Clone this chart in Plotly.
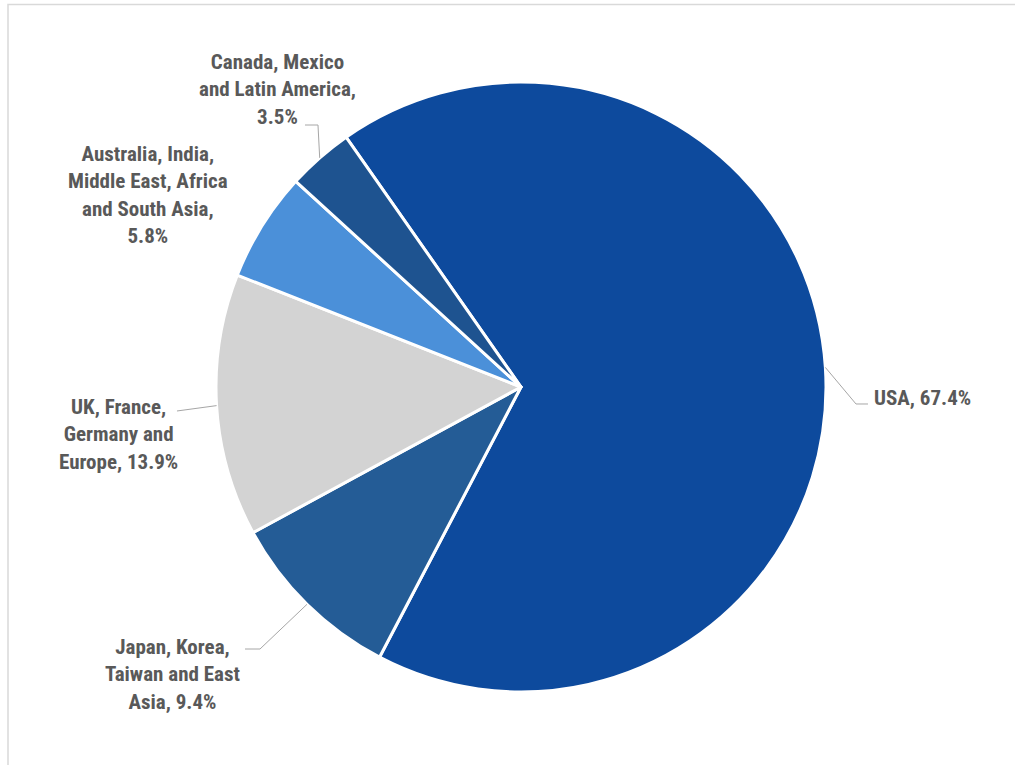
import math
import plotly.graph_objects as go

# Revenue share by region (%)
regions = [
    "USA",
    "Japan, Korea, Taiwan and East Asia",
    "UK, France, Germany and Europe",
    "Australia, India, Middle East, Africa and South Asia",
    "Canada, Mexico and Latin America",
]
shares = [67.4, 9.4, 13.9, 5.8, 3.5]

# Label text as laid out on the chart (line breaks)
label_lines = [
    ["USA, 67.4%"],
    ["Japan, Korea,", "Taiwan and East", "Asia, 9.4%"],
    ["UK, France,", "Germany and", "Europe, 13.9%"],
    ["Australia, India,", "Middle East, Africa", "and South Asia,", "5.8%"],
    ["Canada, Mexico", "and Latin America,", "3.5%"],
]

colors = ["#0D4A9D", "#245C96", "#D3D3D3", "#4B90D9", "#1E5390"]

# ---- layout geometry (pixels) ----
W, H = 1015, 765
CX, CY, R = 521, 387, 305
START_DEG = -35          # first slice begins 35 deg left of 12 o'clock
FONT = "Liberation Sans Narrow, Roboto Condensed, Arial Narrow, Liberation Sans, sans-serif"
TEXT_COLOR = "#595959"
FONT_SIZE = 21

# label anchor (px), anchor side, and leader elbow/end points (px)
label_layout = [
    dict(cx=872, cy=398, xanchor="left", leader=[(856, 404), (868, 404)]),
    dict(cx=172, cy=674, xanchor="center", leader=[(260, 649), (245, 649)]),
    dict(cx=118, cy=434, xanchor="center", leader=[(177, 411)]),
    dict(cx=148, cy=195, xanchor="center", leader=None),
    dict(cx=277, cy=89, xanchor="center", leader=[(318, 125), (305, 125)]),
]


def px(x):
    return x / W


def py(y):
    return 1 - y / H


fig = go.Figure(
    go.Pie(
        labels=regions,
        values=shares,
        sort=False,
        direction="clockwise",
        rotation=START_DEG,
        marker=dict(colors=colors, line=dict(color="white", width=3)),
        textinfo="none",
        hoverinfo="label+percent",
        domain=dict(x=[px(CX - R), px(CX + R)], y=[py(CY + R), py(CY - R)]),
        showlegend=False,
    )
)

annotations = []
shapes = []
total = sum(shares)
cum = 0.0
for i, v in enumerate(shares):
    mid = START_DEG + 360 * (cum + v / 2) / total
    cum += v
    a = math.radians(mid)
    ex, ey = CX + R * math.sin(a), CY - R * math.cos(a)
    lay = label_layout[i]
    annotations.append(
        dict(
            x=px(lay["cx"]), y=py(lay["cy"]), xref="paper", yref="paper",
            text="<br>".join(label_lines[i]), showarrow=False,
            xanchor=lay["xanchor"], yanchor="middle", align="center",
            font=dict(family=FONT, size=FONT_SIZE, color=TEXT_COLOR, weight="bold"),
        )
    )
    if lay["leader"]:
        pts = [(ex, ey)] + lay["leader"]
        path = "M " + " L ".join(f"{px(x):.5f},{py(y):.5f}" for x, y in pts)
        shapes.append(
            dict(type="path", path=path, xref="paper", yref="paper",
                 line=dict(color="#A6A6A6", width=1))
        )

# chart-area frame
shapes.append(
    dict(type="rect", xref="paper", yref="paper",
         x0=px(8), x1=1.02, y0=-0.02, y1=py(4.5),
         line=dict(color="#D9D9D9", width=1.5), fillcolor="rgba(0,0,0,0)")
)

fig.update_layout(
    width=W, height=H,
    margin=dict(l=0, r=0, t=0, b=0),
    paper_bgcolor="white",
    plot_bgcolor="white",
    annotations=annotations,
    shapes=shapes,
)

fig.write_html("out.html")
